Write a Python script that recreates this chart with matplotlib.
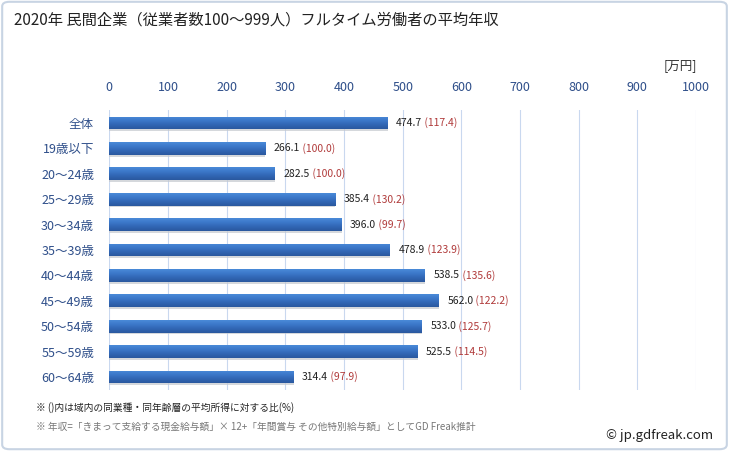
import matplotlib
matplotlib.use("Agg")
import matplotlib.pyplot as plt
import numpy as np
from matplotlib.patches import FancyBboxPatch
from matplotlib.colors import LinearSegmentedColormap

plt.rcParams['font.family'] = ['Noto Sans CJK JP', 'DejaVu Sans']

categories = ["全体", "19歳以下", "20～24歳", "25～29歳", "30～34歳", "35～39歳",
              "40～44歳", "45～49歳", "50～54歳", "55～59歳", "60～64歳"]
values = [474.7, 266.1, 282.5, 385.4, 396.0, 478.9, 538.5, 562.0, 533.0, 525.5, 314.4]
ratios = [117.4, 100.0, 100.0, 130.2, 99.7, 123.9, 135.6, 122.2, 125.7, 114.5, 97.9]
xticks = [0, 100, 200, 300, 400, 500, 600, 700, 800, 900, 1000]

fig = plt.figure(figsize=(7.29, 4.51), dpi=100)
fig.patch.set_facecolor('white')
fig.patches.append(FancyBboxPatch((0.003, 0.004), 0.994, 0.992,
                                  boxstyle="round,pad=0,rounding_size=0.01",
                                  transform=fig.transFigure, fill=False,
                                  edgecolor='#c8d4e3', linewidth=1.5))

ax = fig.add_axes([109.3/729, 1-389.7/451, (696-109.3)/729, (389.7-110.3)/451])
y = np.arange(len(categories))
bh = 0.51

# subtle shadow below bars
ax.barh(y + 0.07, values, height=bh, color='#c4c8ce', alpha=0.7, linewidth=0, zorder=2)
bars = ax.barh(y, values, height=bh, color='#3a72c4', linewidth=0, zorder=3)
cmap = LinearSegmentedColormap.from_list('g', ['#4a8ad8', '#3c78c9', '#3166b4', '#2a589e'])
grad = np.linspace(0, 1, 64).reshape(-1, 1)
for b, yi, v in zip(bars, y, values):
    im = ax.imshow(grad, cmap=cmap, aspect='auto', interpolation='bilinear',
                   extent=(0, v, yi + bh/2, yi - bh/2), zorder=4)
    im.set_clip_path(b)
ax.set_xlim(0, 1000)
ax.set_ylim(len(categories)-0.5, -0.5)

ax.set_xticks(xticks)
ax.xaxis.tick_top()
ax.tick_params(axis='x', length=0, colors='#2f4f8a', labelsize=9, pad=12)
ax.set_yticks(y)
ax.set_yticklabels(categories)
ax.tick_params(axis='y', length=0, colors='#2f4f8a', labelsize=9, pad=11)
ax.grid(axis='x', color='#c9d8ef', linewidth=0.8, zorder=0)
for s in ax.spines.values():
    s.set_visible(False)

for yi, v, r in zip(y, values, ratios):
    t = ax.annotate(f"{v:.1f}", (v, yi), xytext=(6, 0), textcoords='offset points',
                    va='center', ha='left', fontsize=7.5, color='#222222', zorder=6)
    ax.annotate(f" ({r:.1f})", xy=(1, 0.5), xycoords=t, va='center', ha='left',
                fontsize=7.5, color='#b03a3a', zorder=6)

fig.text(14/729, 1-20/451, "2020年 民間企業（従業者数100～999人）フルタイム労働者の平均年収",
         fontsize=11, va='center', ha='left', color='#222222')
fig.text(697/729, 1-66/451, "[万円]", fontsize=9, va='center', ha='right', color='#333333')
fig.text(36/729, 1-408/451, "※ ()内は域内の同業種・同年齢層の平均所得に対する比(%)",
         fontsize=7, va='center', ha='left', color='#222222')
fig.text(36/729, 1-427/451, "※ 年収=「きまって支給する現金給与額」× 12+「年間賞与 その他特別給与額」としてGD Freak推計",
         fontsize=7, va='center', ha='left', color='#777777')
fig.text(713/729, 1-436/451, "© jp.gdfreak.com", fontsize=9.5, va='center', ha='right', color='#222222')

fig.savefig("out.png", dpi=100)
